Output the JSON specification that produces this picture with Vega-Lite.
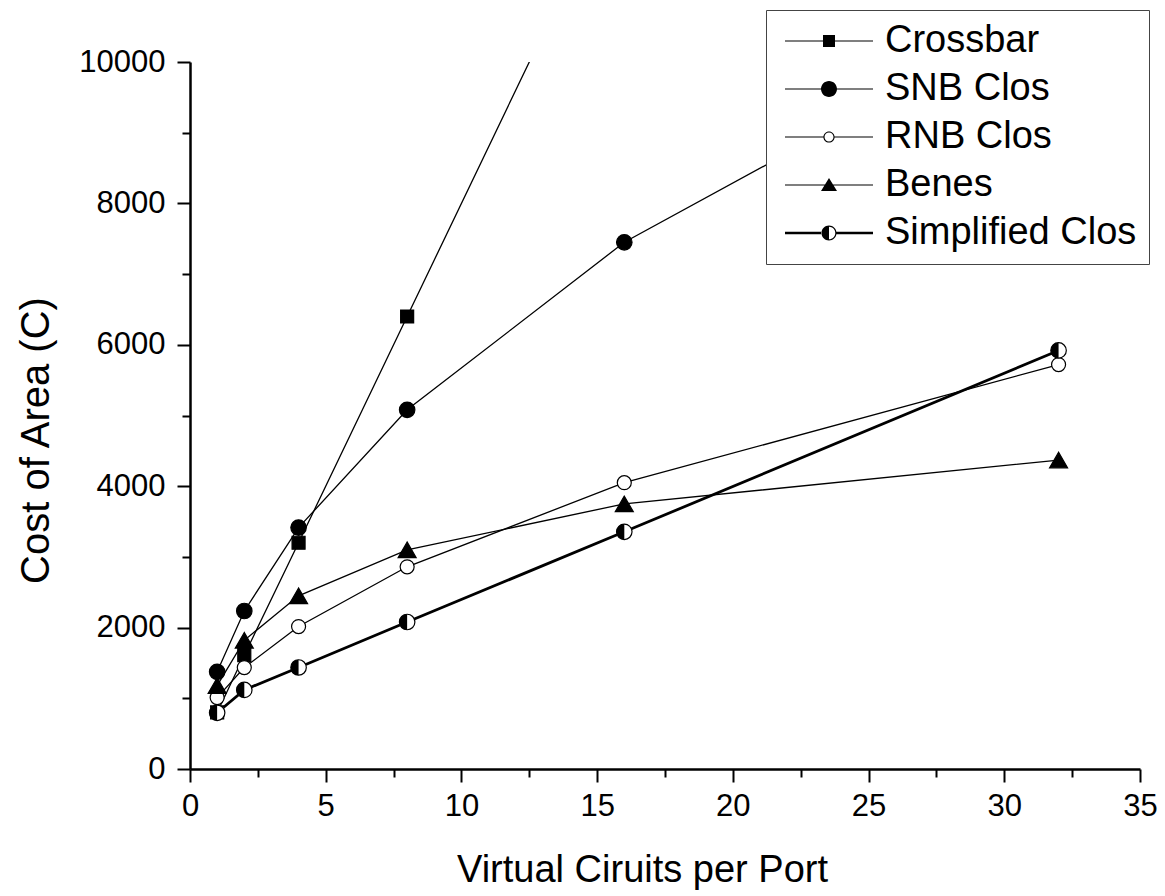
{
  "$schema": "https://vega.github.io/schema/vega-lite/v6.json",
  "width": 950,
  "height": 707,
  "autosize": "none",
  "padding": {"left": 190, "top": 62, "right": 25, "bottom": 127},
  "background": "white",
  "config": {"view": {"stroke": null}, "font": "Liberation Sans"},
  "data": {"values": [
    {"series": "Crossbar", "vc": 1, "cost": 800},
    {"series": "Crossbar", "vc": 2, "cost": 1610},
    {"series": "Crossbar", "vc": 4, "cost": 3200},
    {"series": "Crossbar", "vc": 8, "cost": 6400},
    {"series": "Crossbar", "vc": 16, "cost": 12800},
    {"series": "Crossbar", "vc": 32, "cost": 25600},
    {"series": "SNB Clos", "vc": 1, "cost": 1375},
    {"series": "SNB Clos", "vc": 2, "cost": 2235},
    {"series": "SNB Clos", "vc": 4, "cost": 3415},
    {"series": "SNB Clos", "vc": 8, "cost": 5080},
    {"series": "SNB Clos", "vc": 16, "cost": 7450},
    {"series": "SNB Clos", "vc": 32, "cost": 10800},
    {"series": "RNB Clos", "vc": 1, "cost": 1010},
    {"series": "RNB Clos", "vc": 2, "cost": 1435},
    {"series": "RNB Clos", "vc": 4, "cost": 2015},
    {"series": "RNB Clos", "vc": 8, "cost": 2860},
    {"series": "RNB Clos", "vc": 16, "cost": 4050},
    {"series": "RNB Clos", "vc": 32, "cost": 5720},
    {"series": "Benes", "vc": 1, "cost": 1180},
    {"series": "Benes", "vc": 2, "cost": 1820},
    {"series": "Benes", "vc": 4, "cost": 2450},
    {"series": "Benes", "vc": 8, "cost": 3100},
    {"series": "Benes", "vc": 16, "cost": 3750},
    {"series": "Benes", "vc": 32, "cost": 4370},
    {"series": "Simplified Clos", "vc": 1, "cost": 795},
    {"series": "Simplified Clos", "vc": 2, "cost": 1118},
    {"series": "Simplified Clos", "vc": 4, "cost": 1436},
    {"series": "Simplified Clos", "vc": 8, "cost": 2079},
    {"series": "Simplified Clos", "vc": 16, "cost": 3355},
    {"series": "Simplified Clos", "vc": 32, "cost": 5920}
  ]},
  "encoding": {
    "x": {
      "field": "vc", "type": "quantitative",
      "scale": {"domain": [0, 35], "nice": false, "zero": false},
      "axis": {
        "title": "Virtual Ciruits per Port",
        "values": [0, 2.5, 5, 7.5, 10, 12.5, 15, 17.5, 20, 22.5, 25, 27.5, 30, 32.5, 35],
        "format": "d",
        "labelExpr": "datum.value % 5 === 0 ? datum.label : ''",
        "labelOverlap": false,
        "labelFlush": false,
        "tickSize": {"condition": {"test": "datum.value % 5 === 0", "value": 13}, "value": 8},
        "tickWidth": 2,
        "tickColor": "black",
        "domainColor": "black",
        "domainWidth": 2.5,
        "grid": false,
        "labelFont": "Liberation Sans",
        "labelFontSize": 31,
        "labelColor": "black",
        "labelPadding": 9,
        "titleFont": "Liberation Sans",
        "titleFontSize": 38,
        "titleFontWeight": "normal",
        "titleColor": "black",
        "titlePadding": 30,
        "titleX": 452
      }
    },
    "y": {
      "field": "cost", "type": "quantitative",
      "scale": {"domain": [0, 10000], "nice": false, "zero": true},
      "axis": {
        "title": "Cost of Area (C)",
        "values": [0, 1000, 2000, 3000, 4000, 5000, 6000, 7000, 8000, 9000, 10000],
        "format": "d",
        "labelExpr": "datum.value % 2000 === 0 ? datum.label : ''",
        "labelOverlap": false,
        "labelFlush": false,
        "tickSize": {"condition": {"test": "datum.value % 2000 === 0", "value": 13}, "value": 8},
        "tickWidth": 2,
        "tickColor": "black",
        "domainColor": "black",
        "domainWidth": 2.5,
        "grid": false,
        "labelFont": "Liberation Sans",
        "labelFontSize": 31,
        "labelColor": "black",
        "labelPadding": 12,
        "titleFont": "Liberation Sans",
        "titleFontSize": 40,
        "titleFontWeight": "normal",
        "titleColor": "black",
        "titlePadding": 22,
        "titleY": 378
      }
    }
  },
  "layer": [
    {
      "mark": {"type": "line", "clip": true, "color": "black"},
      "encoding": {
        "detail": {"field": "series"},
        "strokeWidth": {"condition": {"test": "datum.series === 'Simplified Clos'", "value": 2.8}, "value": 1.3}
      }
    },
    {
      "mark": {"type": "point", "clip": true, "stroke": "black", "strokeWidth": 1.2, "opacity": 1},
      "encoding": {
        "shape": {
          "condition": [
            {"test": "datum.series === 'Crossbar'", "value": "square"},
            {"test": "datum.series === 'Benes'", "value": "triangle-up"}
          ],
          "value": "circle"
        },
        "fill": {
          "condition": {"test": "datum.series === 'RNB Clos' || datum.series === 'Simplified Clos'", "value": "white"},
          "value": "black"
        },
        "size": {
          "condition": [
            {"test": "datum.series === 'Crossbar'", "value": 169},
            {"test": "datum.series === 'Benes'", "value": 324},
            {"test": "datum.series === 'RNB Clos'", "value": 196}
          ],
          "value": 240
        }
      }
    },
    {
      "transform": [{"filter": "datum.series === 'Simplified Clos'"}],
      "mark": {"type": "point", "clip": true, "shape": "M0,-1A1,1 0 0,0 0,1Z", "fill": "black", "filled": true, "strokeWidth": 0, "size": 240, "opacity": 1}
    },
    {
      "transform": [{"filter": "datum.vc < 0"}],
      "mark": {"type": "point", "color": "black", "opacity": 1, "filled": true},
      "encoding": {
        "shape": {
          "field": "series", "type": "nominal",
          "scale": {
            "domain": ["Crossbar", "SNB Clos", "RNB Clos", "Benes", "Simplified Clos"],
            "range": [
              "M-44,-0.6H44V0.6H-44ZM-6,-6H6V6H-6Z",
              "M-44,-0.6H44V0.6H-44ZM-8,0A8,8 0 1,1 8,0A8,8 0 1,1 -8,0Z",
              "M-44,-0.6H-5V0.6H-44ZM5,-0.6H44V0.6H5ZM-5.6,0A5.6,5.6 0 1,1 5.6,0A5.6,5.6 0 1,1 -5.6,0ZM-4.5,0A4.5,4.5 0 1,0 4.5,0A4.5,4.5 0 1,0 -4.5,0Z",
              "M-44,-0.6H44V0.6H-44ZM0,-7L8,6H-8Z",
              "M-44,-1.25H-7V1.25H-44ZM7,-1.25H44V1.25H7ZM0,-7.5A7.5,7.5 0 0,0 0,7.5ZM0,-7.5A7.5,7.5 0 0,1 0,7.5L0,6.3A6.3,6.3 0 0,0 0,-6.3Z"
            ]
          },
          "legend": {
            "title": null,
            "orient": "none",
            "legendX": 576,
            "legendY": -52,
            "symbolSize": 4,
            "symbolOffset": 32,
            "labelOffset": 37,
            "padding": 12,
            "rowPadding": 10,
            "symbolFillColor": "black",
            "symbolStrokeWidth": 0,
            "symbolOpacity": 1,
            "labelFont": "Liberation Sans",
            "labelFontSize": 38,
            "labelColor": "black",
            "labelLimit": 600,
            "strokeColor": "#444",
            "fillColor": "white"
          }
        }
      }
    }
  ]
}
